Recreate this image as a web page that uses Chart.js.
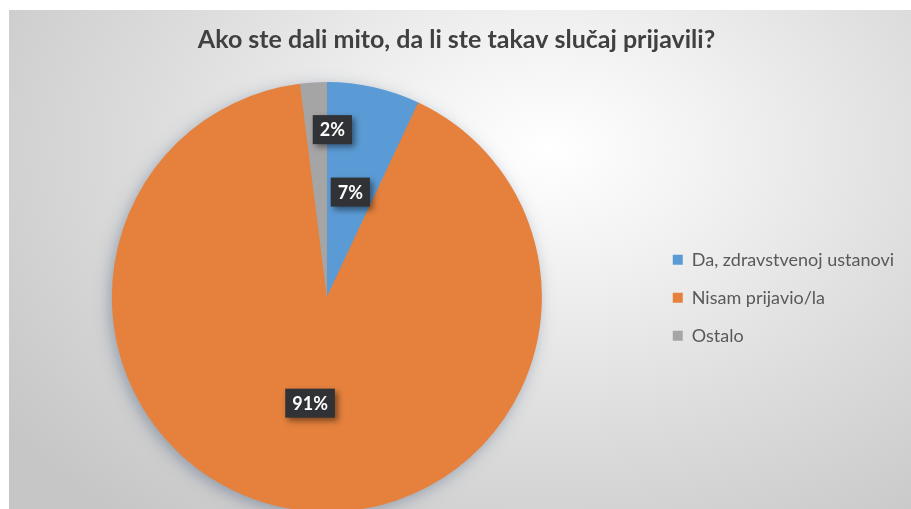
<!DOCTYPE html>
<html>
<head>
<meta charset="utf-8">
<script src="https://cdn.jsdelivr.net/npm/chart.js@4.4.1/dist/chart.umd.min.js"></script>
<style>
  html, body { margin:0; padding:0; width:911px; height:509px; overflow:hidden; background:#fff; }
  #bg {
    position:absolute; left:9px; top:10px; right:0; bottom:0;
    background: radial-gradient(ellipse 75% 95% at 60% 28%, #ffffff 0%, #f3f3f3 22%, #dcdcdc 60%, #c6c6c6 100%);
  }
  #wrap { position:absolute; left:1px; top:0; width:910px; height:530px; }
</style>
</head>
<body>
<div id="bg"></div>
<div id="wrap"><canvas id="pie"></canvas></div>
<script>
// data
const categories = ['Da, zdravstvenoj ustanovi', 'Nisam prijavio/la', 'Ostalo'];
const shares = [7, 91, 2];
const sliceColors = ['#5B9BD5', '#E5813D', '#A5A5A5'];

// soft shadow under the whole pie
const pieShadow = {
  id: 'pieShadow',
  afterLayout(chart){
    // title sits a bit right of the canvas centre in the original
    chart.titleBlock.left += 4;
    chart.titleBlock.right += 4;
  },
  beforeDatasetsDraw(chart){
    const arc = chart.getDatasetMeta(0).data[0];
    if(!arc) return;
    const {x, y, outerRadius} = arc.getProps(['x','y','outerRadius'], true);
    const ctx = chart.ctx;
    ctx.save();
    ctx.shadowColor = 'rgba(80,100,130,0.5)';
    ctx.shadowBlur = 16;
    ctx.shadowOffsetX = -3;
    ctx.shadowOffsetY = 4;
    ctx.fillStyle = sliceColors[1];
    ctx.beginPath();
    ctx.arc(x, y, outerRadius - 1, 0, Math.PI*2);
    ctx.fill();
    ctx.restore();
  }
};

// dark boxed percentage labels
const boxLabels = {
  id: 'boxLabels',
  afterDatasetsDraw(chart, args, opts){
    const ctx = chart.ctx;
    const meta = chart.getDatasetMeta(0);
    ctx.save();
    ctx.font = 'bold 18px Lato';
    ctx.textAlign = 'center';
    ctx.textBaseline = 'middle';
    meta.data.forEach((arc, i)=>{
      const p = arc.getProps(['x','y','startAngle','endAngle','outerRadius'], true);
      const mid = (p.startAngle + p.endAngle)/2;
      const r = p.outerRadius * opts.radius[i];
      const cx = p.x + Math.cos(mid)*r + opts.shiftX[i];
      const cy = p.y + Math.sin(mid)*r;
      const txt = shares[i] + '%';
      const w = ctx.measureText(txt).width + 14;
      const h = 29;
      ctx.save();
      ctx.shadowColor = 'rgba(0,0,0,0.45)';
      ctx.shadowBlur = 6;
      ctx.shadowOffsetX = 3;
      ctx.shadowOffsetY = 3;
      ctx.fillStyle = '#303236';
      ctx.fillRect(cx - w/2, cy - h/2, w, h);
      ctx.restore();
      ctx.fillStyle = '#ffffff';
      ctx.fillText(txt, cx, cy + 1);
    });
    ctx.restore();
  }
};

new Chart(document.getElementById('pie'), {
  type: 'pie',
  data: {
    labels: categories,
    datasets: [{
      data: shares,
      backgroundColor: sliceColors,
      borderWidth: 0
    }]
  },
  options: {
    responsive: true,
    maintainAspectRatio: false,
    animation: false,
    layout: { padding: { top: 5, left: 0, right: 7, bottom: 18 } },
    plugins: {
      title: {
        display: true,
        text: 'Ako ste dali mito, da li ste takav slučaj prijavili?',
        color: '#404040',
        font: { family: 'Lato', size: 25, weight: 'bold' },
        padding: { top: 20, bottom: 27 }
      },
      legend: {
        position: 'right',
        title: { display: true, text: '', font: { size: 12 }, padding: { top: 0, bottom: 64 } },
        labels: {
          color: '#595959',
          font: { family: 'Lato', size: 18 },
          boxWidth: 10,
          boxHeight: 10,
          padding: 20
        }
      },
      tooltip: { enabled: false },
      boxLabels: { radius: [0.5, 0.5, 0.78], shiftX: [0, 0, 16] }
    }
  },
  plugins: [pieShadow, boxLabels]
});
</script>
</body>
</html>
